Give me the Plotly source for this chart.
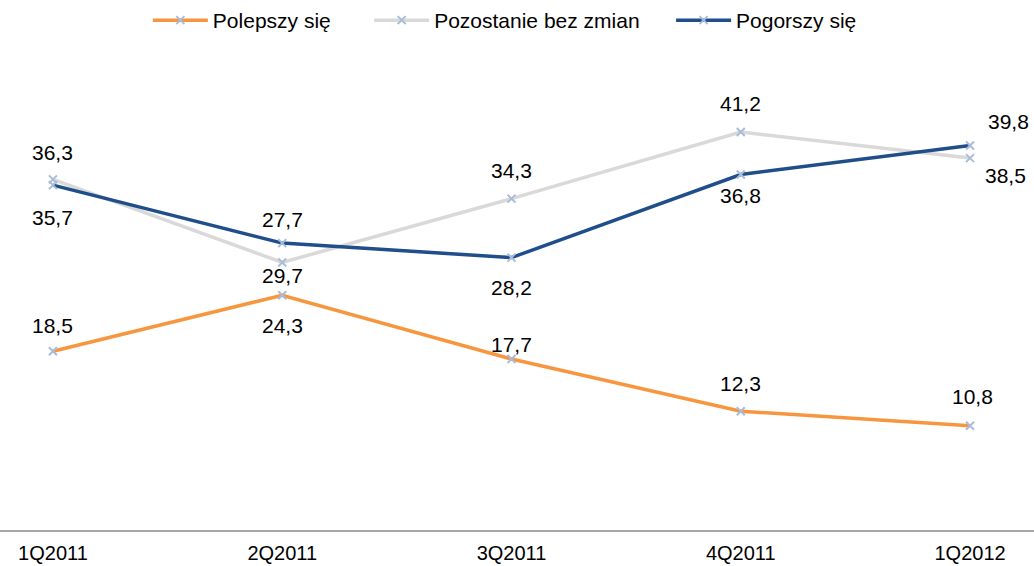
import plotly.graph_objects as go

categories = ["1Q2011", "2Q2011", "3Q2011", "4Q2011", "1Q2012"]
polepszy = [18.5, 24.3, 17.7, 12.3, 10.8]
bez_zmian = [36.3, 27.7, 34.3, 41.2, 38.5]
pogorszy = [35.7, 29.7, 28.2, 36.8, 39.8]

series = [
    ("Polepszy się", polepszy, "#F7963F"),
    ("Pozostanie bez zmian", bez_zmian, "#D9D9D9"),
    ("Pogorszy się", pogorszy, "#1F4E8A"),
]

# label offsets (pixels) per series, per point: (xshift, yshift)
label_offsets = [
    [(0, 26), (0, -30), (0, 15), (0, 28), (2, 29)],
    [(0, 27), (0, 43), (0, 28), (0, 29), (35, -17)],
    [(0, -32), (0, -32), (0, -30), (0, -21), (38, 24)],
]
# legend entry left positions (paper fraction)
legend_x = [0.143, 0.357, 0.649]
legend_ids = ["legend", "legend2", "legend3"]

xpos = list(range(len(categories)))

fig = go.Figure()
annotations = []
for (name, vals, color), offs, lid in zip(series, label_offsets, legend_ids):
    fig.add_trace(go.Scatter(
        x=xpos, y=vals, name=name, mode="lines+markers", legend=lid,
        line=dict(color=color, width=3.5),
        marker=dict(symbol="x-thin", size=8, color="#A9BCD9",
                    line=dict(color="#A9BCD9", width=2)),
    ))
    for xi, v, (dx, dy) in zip(xpos, vals, offs):
        annotations.append(dict(
            x=xi, y=v, xref="x", yref="y",
            text=f"{v:.1f}".replace(".", ","),
            showarrow=False, xshift=dx, yshift=dy,
            font=dict(size=21, color="#000000", family="Liberation Sans, Arial, sans-serif"),
        ))

legend_common = dict(orientation="h", xanchor="left", y=1.054, yanchor="middle",
                     font=dict(size=21), itemwidth=55, bgcolor="rgba(0,0,0,0)")

fig.update_layout(
    width=1034, height=566,
    margin=dict(l=0, r=0, t=46, b=36),
    paper_bgcolor="white", plot_bgcolor="white",
    font=dict(family="Liberation Sans, Arial, sans-serif", color="#000000"),
    showlegend=True,
    legend=dict(x=legend_x[0], **legend_common),
    legend2=dict(x=legend_x[1], **legend_common),
    legend3=dict(x=legend_x[2], **legend_common),
    annotations=annotations,
    xaxis=dict(
        range=[-0.231, 4.279], tickvals=xpos, ticktext=categories,
        showline=True, linecolor="#A6A6A6", linewidth=2,
        showgrid=False, zeroline=False, ticks="",
        tickfont=dict(size=20, color="#000000"), ticklabelstandoff=4,
    ),
    yaxis=dict(range=[0, 50], visible=False, showgrid=False, zeroline=False),
)

fig.write_html("out.html", config={"displayModeBar": False},
               post_script="document.body.style.margin='0';document.body.style.padding='0';")
